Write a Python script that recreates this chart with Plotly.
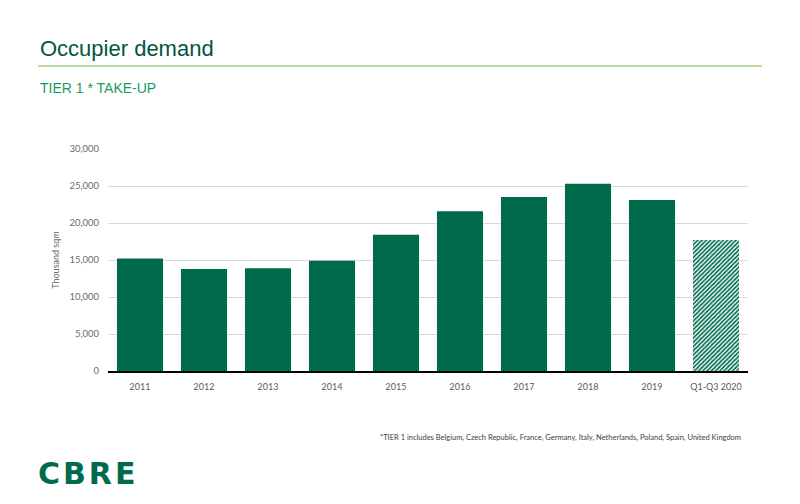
import plotly.graph_objects as go

categories = ["2011", "2012", "2013", "2014", "2015", "2016", "2017", "2018", "2019", "Q1-Q3 2020"]
take_up = [15200, 13800, 13900, 14900, 18400, 21600, 23500, 25300, 23100, 17700]
is_partial = [False] * 9 + [True]
y_ticks = [0, 5000, 10000, 15000, 20000, 25000, 30000]

green = "#006A4D"
patterns = ["/" if p else "" for p in is_partial]

fig = go.Figure()
fig.add_trace(go.Bar(
    x=categories, y=take_up,
    marker=dict(
        color=[green] * len(categories),
        line=dict(width=0),
        pattern=dict(shape=patterns, fgcolor=["white"] * len(categories),
                     fgopacity=1, size=3, solidity=0.45, fillmode="overlay"),
    ),
    hoverinfo="x+y",
))

# page body has an 8px offset; plot area spans screen x 108-748, y 149-371
fig.update_layout(
    width=800, height=504,
    paper_bgcolor="white", plot_bgcolor="white",
    margin=dict(l=100, r=60, t=141, b=141),
    bargap=0.28,
    showlegend=False,
    font=dict(family="Liberation Sans, Arial, sans-serif", color="#555555"),
)
fig.update_yaxes(
    range=[0, 30000], tickvals=y_ticks, tickformat=",",
    showgrid=True, gridcolor="#d9d9d9", gridwidth=1,
    zeroline=False, showline=False,
    ticks="outside", ticklen=6, tickcolor="white",
    tickfont=dict(size=9.5, color="#6b6b6b", family="Lato, sans-serif"),
    title=dict(text="Thousand sqm", font=dict(size=9, color="#6b6b6b", family="Lato, sans-serif"), standoff=8),
)
fig.update_xaxes(
    showline=True, linecolor="black", linewidth=2,
    tickfont=dict(size=9, color="#595959", family="Lato, sans-serif"),
    ticks="", ticklabelstandoff=6,
)

fig.add_annotation(text="Occupier demand", xref="paper", yref="paper",
                   x=(38 - 108) / 640, y=1 + (149 - 48) / 222, xanchor="left", yanchor="middle",
                   showarrow=False, font=dict(size=22, color="#00563F", family="Liberation Sans, Arial"))
fig.add_shape(type="line", xref="paper", yref="paper",
              x0=(38 - 108) / 640, x1=(762 - 108) / 640,
              y0=1 + (149 - 66) / 222, y1=1 + (149 - 66) / 222,
              line=dict(color="#78BE43", width=1.2))
fig.add_annotation(text="TIER 1 * TAKE-UP", xref="paper", yref="paper",
                   x=(38 - 108) / 640, y=1 + (149 - 88) / 222, xanchor="left", yanchor="middle",
                   showarrow=False, font=dict(size=14, color="#1A9A5C", family="Liberation Sans, Arial"))
fig.add_annotation(text="*TIER 1 includes Belgium, Czech Republic, France, Germany, Italy, Netherlands, Poland, Spain, United Kingdom",
                   xref="paper", yref="paper",
                   x=(378 - 108) / 640, y=-(437 - 371) / 222, xanchor="left", yanchor="middle",
                   showarrow=False, font=dict(size=7.5, color="#404040", family="Lato, sans-serif"))
fig.add_annotation(text="<b>C\u200aB\u200aR\u200aE</b>", xref="paper", yref="paper",
                   x=(36 - 108) / 640, y=-(473 - 371) / 222, xanchor="left", yanchor="middle",
                   showarrow=False, font=dict(size=30, color="#006A4D", family="DejaVu Sans, sans-serif"))

fig.write_html("out.html")
